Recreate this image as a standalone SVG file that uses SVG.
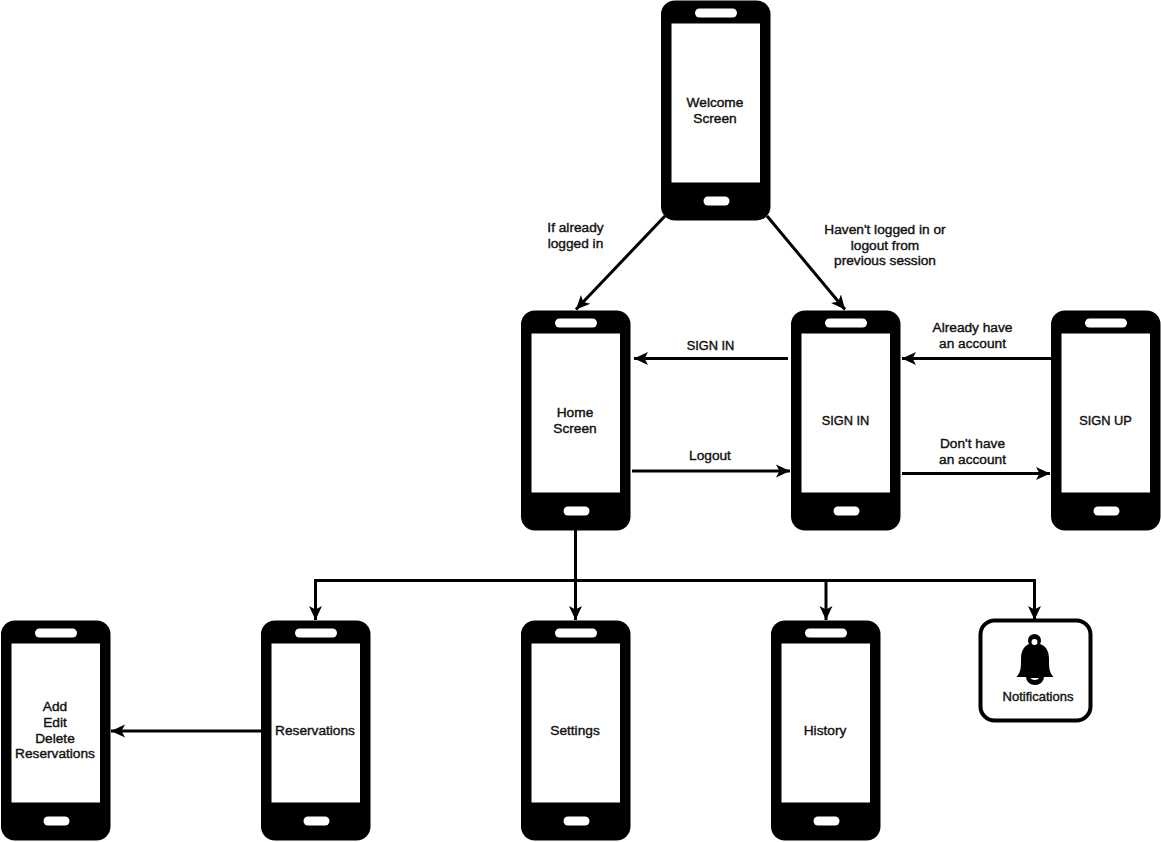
<svg xmlns="http://www.w3.org/2000/svg" xmlns:xlink="http://www.w3.org/1999/xlink" width="1161" height="842" viewBox="0 0 1161 842">
<style>
text{font-family:"Liberation Sans",Arial,sans-serif;font-size:13.700px;fill:#111;text-anchor:middle;stroke:#111;stroke-width:.4px}
.caps{font-size:12.800px}
.c{fill:none;stroke:#000;stroke-width:3;marker-end:url(#a)}
</style>
<defs>
<marker id="a" markerUnits="userSpaceOnUse" markerWidth="16" markerHeight="16" refX="14" refY="8" orient="auto"><path d="M0 1.500L14 8L0 14.500L3.500 8Z" fill="#000"/></marker>
<g id="phone">
<rect x="0" y="0" width="109.500" height="220" rx="14" fill="#000"/>
<rect x="10.500" y="23" width="88.500" height="159" fill="#fff"/>
<rect x="34" y="8" width="42" height="9" rx="4.500" fill="#fff"/>
<rect x="42.500" y="196" width="26" height="9" rx="4.500" fill="#fff"/>
</g>
</defs>
<rect width="1161" height="842" fill="#fff"/>
<g id="connectors">
<path class="c" d="M665 216L576 309.500"/>
<path class="c" d="M767 216L845 309.500"/>
<path class="c" d="M788 358.500H634"/>
<path class="c" d="M632 471H790"/>
<path class="c" d="M1051 358.500H902"/>
<path class="c" d="M902 473.500H1050"/>
<path class="c" d="M575.500 530V620"/>
<path class="c" d="M575.500 580.500H315.500V620"/>
<path class="c" d="M575.500 580.500H826V620"/>
<path class="c" d="M826 580.500H1034.500V620"/>
<path class="c" d="M261 731H111"/>
</g>
<g id="welcome"><use xlink:href="#phone" x="661" y="0.500"/><text x="715" y="107">Welcome</text><text x="715" y="123">Screen</text></g>
<g id="home"><use xlink:href="#phone" x="521" y="310.500"/><text x="575" y="417">Home</text><text x="575" y="433">Screen</text></g>
<g id="signin"><use xlink:href="#phone" x="791" y="310.500"/><text class="caps" x="845.500" y="425">SIGN IN</text></g>
<g id="signup"><use xlink:href="#phone" x="1051" y="310.500"/><text class="caps" x="1105.500" y="425">SIGN UP</text></g>
<g id="add"><use xlink:href="#phone" x="1" y="620.500"/><text x="55" y="711">Add</text><text x="55" y="727">Edit</text><text x="55" y="743">Delete</text><text x="55" y="758">Reservations</text></g>
<g id="reservations"><use xlink:href="#phone" x="261" y="620.500"/><text x="315" y="735">Reservations</text></g>
<g id="settings"><use xlink:href="#phone" x="521" y="620.500"/><text x="575" y="735">Settings</text></g>
<g id="history"><use xlink:href="#phone" x="771" y="620.500"/><text x="825" y="735">History</text></g>
<g id="notifications">
<rect x="980.500" y="620.500" width="110" height="100" rx="14" fill="#fff" stroke="#000" stroke-width="4"/>
<path d="M1016.500 677C1021 672 1021 667 1021 659C1021 650 1025 645.500 1029 644A6.500 6.500 0 1 1 1040 644C1045 645.500 1049 650 1049 659C1049 667 1049 672 1053.500 677L1044 677A9 8 0 0 1 1026 677Z" fill="#000"/>
<circle cx="1034.500" cy="642" r="3" fill="#fff"/>
<path d="M1030.500 678H1039A4.500 3 0 0 1 1030.500 678Z" fill="#fff"/>
<text x="1038" y="701" style="font-size:13px">Notifications</text>
</g>
<g id="labels">
<text x="575.500" y="232">If already</text><text x="575.500" y="248">logged in</text>
<text x="885" y="234">Haven't logged in or</text><text x="885" y="250">logout from</text><text x="885" y="265">previous session</text>
<text class="caps" x="710.500" y="350">SIGN IN</text>
<text x="710" y="460">Logout</text>
<text x="972.500" y="332">Already have</text><text x="972.500" y="348">an account</text>
<text x="972.500" y="448">Don't have</text><text x="972.500" y="464">an account</text>
</g>
</svg>
